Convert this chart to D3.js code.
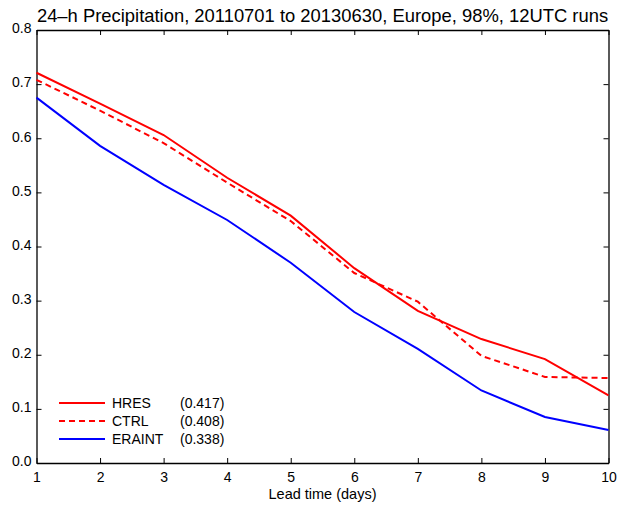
<!DOCTYPE html>
<html>
<head>
<meta charset="utf-8">
<script src="https://cdn.jsdelivr.net/npm/d3@7"></script>
<style>
  body { margin: 0; background: #fff; }
  text { font-family: "Liberation Sans", Arial, sans-serif; }
</style>
</head>
<body>
<svg id="chart"></svg>
<script>
const WIDTH = 617, HEIGHT = 506;

const days = [1, 2, 3, 4, 5, 6, 7, 8, 9, 10];
const hres = [0.721, 0.664, 0.606, 0.527, 0.457, 0.360, 0.281, 0.229, 0.192, 0.125];
const ctrl = [0.708, 0.651, 0.591, 0.518, 0.447, 0.351, 0.298, 0.198, 0.159, 0.157];
const eraint = [0.675, 0.586, 0.514, 0.449, 0.370, 0.279, 0.211, 0.134, 0.085, 0.061];
const yTicks = [0, 0.1, 0.2, 0.3, 0.4, 0.5, 0.6, 0.7, 0.8];

const series = [
    {name: "HRES", score: "(0.417)", values: hres, color: "#ff0000", dash: null},
    {name: "CTRL", score: "(0.408)", values: ctrl, color: "#ff0000", dash: "6,4"},
    {name: "ERAINT", score: "(0.338)", values: eraint, color: "#0000ff", dash: null}
];

const margin = {top: 30, right: 8.5, bottom: 43, left: 36.5};

const svg = d3.select("#chart")
    .attr("width", WIDTH)
    .attr("height", HEIGHT);

const x = d3.scaleLinear()
    .domain([1, 10])
    .range([margin.left, WIDTH - margin.right]);

const y = d3.scaleLinear()
    .domain([0, 0.8])
    .range([HEIGHT - margin.bottom, margin.top]);

// title
svg.append("text")
    .attr("x", (x.range()[0] + x.range()[1]) / 2)
    .attr("y", 22)
    .attr("text-anchor", "middle")
    .style("font-size", "18.4px")
    .text("24\u2013h Precipitation, 20110701 to 20130630, Europe, 98%, 12UTC runs");

// axes, ticks pointing inward on all sides
const tickLen = 5;
const axisStyle = g => {
    g.selectAll("path").attr("stroke", "#000").attr("stroke-width", 1.3);
    g.selectAll("line").attr("stroke", "#000").attr("stroke-width", 1);
    g.selectAll("text").style("font-size", "14px").attr("fill", "#000");
};

svg.append("g")
    .attr("transform", `translate(0,${y(0)})`)
    .call(d3.axisBottom(x).tickValues(days).tickSizeInner(-tickLen).tickSizeOuter(0).tickPadding(9))
    .call(axisStyle);

svg.append("g")
    .attr("transform", `translate(0,${y(0.8)})`)
    .call(d3.axisTop(x).tickValues(days).tickSizeInner(-tickLen).tickSizeOuter(0).tickFormat(""))
    .call(axisStyle);

svg.append("g")
    .attr("transform", `translate(${x(1)},0)`)
    .call(d3.axisLeft(y).tickValues(yTicks).tickFormat(d3.format(".1f")).tickSizeInner(-tickLen).tickSizeOuter(0).tickPadding(5))
    .call(axisStyle)
    .call(g => g.selectAll("text").attr("dy", "0.2em"));

svg.append("g")
    .attr("transform", `translate(${x(10)},0)`)
    .call(d3.axisRight(y).tickValues(yTicks).tickSizeInner(-tickLen).tickSizeOuter(0).tickFormat(""))
    .call(axisStyle);

svg.append("text")
    .attr("x", (x.range()[0] + x.range()[1]) / 2)
    .attr("y", 499)
    .attr("text-anchor", "middle")
    .style("font-size", "14.5px")
    .text("Lead time (days)");

// lines
const line = d3.line()
    .x((d, i) => x(days[i]))
    .y(d => y(d));

svg.append("g")
    .selectAll("path")
    .data(series)
    .join("path")
    .attr("d", d => line(d.values))
    .attr("fill", "none")
    .attr("stroke", d => d.color)
    .attr("stroke-width", 2)
    .attr("stroke-dasharray", d => d.dash);

// legend
const legend = svg.append("g")
    .selectAll("g")
    .data(series)
    .join("g")
    .attr("transform", (d, i) => `translate(0,${403 + i * 18})`);

legend.append("line")
    .attr("x1", 59).attr("x2", 105)
    .attr("stroke", d => d.color)
    .attr("stroke-width", 2)
    .attr("stroke-dasharray", d => d.dash);

legend.append("text")
    .attr("x", 112)
    .attr("dy", "0.35em")
    .style("font-size", "14px")
    .text(d => d.name);

legend.append("text")
    .attr("x", 180)
    .attr("dy", "0.35em")
    .style("font-size", "14px")
    .text(d => d.score);
</script>
</body>
</html>
